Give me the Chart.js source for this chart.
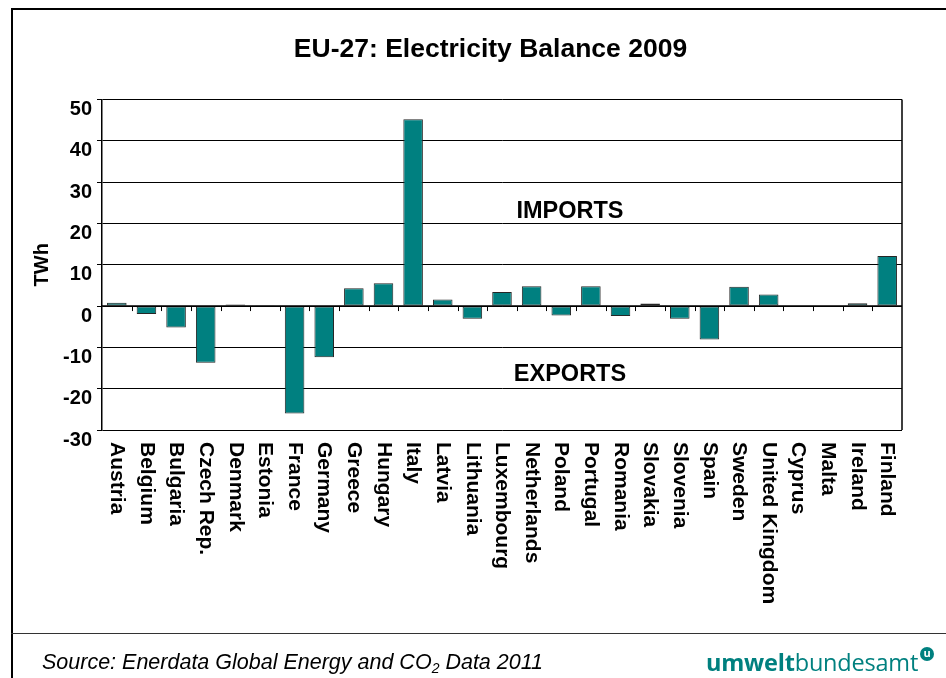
<!DOCTYPE html>
<html>
<head>
<meta charset="utf-8">
<script src="https://cdn.jsdelivr.net/npm/chart.js@4.4.0/dist/chart.umd.min.js"></script>
<style>
  html, body { margin: 0; padding: 0; background: #fff; }
  body { width: 946px; height: 678px; position: relative; overflow: hidden; font-family: "Liberation Sans", Arial, sans-serif; }
  #wrap { position: absolute; left: 0; top: 0; width: 946px; height: 678px; }
  .line { position: absolute; background: #000; }
  #title { position: absolute; left: 0; width: 981px; top: 33px; text-align: center; font-weight: bold; font-size: 26.5px; color: #000; }
  #source { position: absolute; left: 42px; top: 650px; font-style: italic; font-size: 21.5px; color: #000; white-space: nowrap; }
  #source sub { font-size: 14px; vertical-align: -4px; line-height: 0; }
  #logo { position: absolute; left: 706px; top: 646px; font-family: "Open Sans", sans-serif; font-size: 23.5px; color: #00807f; white-space: nowrap; letter-spacing: -0.2px; }
  #logo b { font-weight: bold; }
  #logo .dot { display: inline-block; width: 14px; height: 14px; border-radius: 7px; background: #00807f; color: #fff; font-size: 11px; font-weight: bold; line-height: 12px; text-align: center; vertical-align: 14px; margin-left: 2px; letter-spacing: 0; }
</style>
</head>
<body>
<div id="wrap"><canvas id="myChart" width="946" height="678"></canvas></div>
<div class="line" style="left:11px;top:8px;width:935px;height:2px;"></div>
<div class="line" style="left:11px;top:8px;width:2px;height:670px;"></div>
<div class="line" style="left:11px;top:633px;width:935px;height:1px;background:#333;"></div>
<div id="title">EU-27: Electricity Balance 2009</div>
<div id="source">Source: Enerdata Global Energy and CO<sub>2</sub> Data 2011</div>
<div id="logo"><b>umwelt</b>bundesamt<span class="dot">u</span></div>
<script>
const countries = ["Austria", "Belgium", "Bulgaria", "Czech Rep.", "Denmark", "Estonia", "France",
  "Germany", "Greece", "Hungary", "Italy", "Latvia", "Lithuania", "Luxembourg", "Netherlands",
  "Poland", "Portugal", "Romania", "Slovakia", "Slovenia", "Spain", "Sweden", "United Kingdom",
  "Cyprus", "Malta", "Ireland", "Finland"];
const balance = [0.8, -1.9, -5.2, -13.7, 0.4, 0.2, -26.0, -12.4, 4.3, 5.5, 45.2, 1.6, -3.1, 3.4, 4.8,
  -2.3, 4.8, -2.4, 0.6, -3.1, -8.1, 4.7, 2.8, 0, 0, 0.7, 12.1];
const yMin = -30, yMax = 50, yStep = 10;

const FONT = '"Liberation Sans", Arial, sans-serif';

// zero axis with tick marks, right frame, rotated country names, IMPORTS / EXPORTS
const extras = {
  id: 'extras',
  afterDraw(chart) {
    const ctx = chart.ctx;
    const area = chart.chartArea;
    const x = chart.scales.x;
    const y = chart.scales.y;
    const y0 = y.getPixelForValue(0);
    ctx.save();
    ctx.strokeStyle = '#000';
    ctx.lineWidth = 1.5;
    ctx.beginPath();
    ctx.moveTo(area.left, y0);
    ctx.lineTo(area.right, y0);
    ctx.moveTo(area.right, area.top);
    ctx.lineTo(area.right, area.bottom);
    ctx.stroke();
    ctx.lineWidth = 1;
    ctx.beginPath();
    for (let i = 1; i < countries.length; i++) {
      const bx = Math.round((x.getPixelForValue(i - 1) + x.getPixelForValue(i)) / 2) + 0.5;
      ctx.moveTo(bx, y0);
      ctx.lineTo(bx, y0 + 5);
    }
    ctx.stroke();

    ctx.fillStyle = '#000';
    ctx.font = 'bold 21px ' + FONT;
    ctx.textAlign = 'left';
    ctx.textBaseline = 'middle';
    for (let i = 0; i < countries.length; i++) {
      ctx.save();
      ctx.translate(x.getPixelForValue(i), area.bottom + 12);
      ctx.rotate(Math.PI / 2);
      ctx.fillText(countries[i], 0, 0);
      ctx.restore();
    }

    ctx.font = 'bold 23.5px ' + FONT;
    ctx.textAlign = 'center';
    const cx = area.left + (area.right - area.left) * 0.585;
    ctx.fillText('IMPORTS', cx, y.getPixelForValue(22.8));
    ctx.fillText('EXPORTS', cx, y.getPixelForValue(-16.6));
    ctx.restore();
  }
};

const data = {
  labels: countries,
  datasets: [{
    label: 'Electricity balance',
    data: balance,
    backgroundColor: '#008080',
    borderColor: '#262626',
    borderWidth: 1,
    borderSkipped: false,
    categoryPercentage: 1,
    barPercentage: 0.66
  }]
};

const config = {
  type: 'bar',
  data: data,
  options: {
    responsive: false,
    animation: false,
    layout: { padding: { left: 28, right: 44, top: 99.5, bottom: 0 } },
    plugins: {
      legend: { display: false },
      title: { display: false },
      tooltip: { enabled: false }
    },
    scales: {
      x: {
        grid: { display: false },
        border: { display: false },
        ticks: { display: false },
        afterFit(scale) { scale.height = 248; }
      },
      y: {
        min: yMin,
        max: yMax,
        ticks: {
          stepSize: yStep,
          color: '#000',
          padding: 5,
          labelOffset: 10,
          font: { family: FONT, size: 20, weight: 'bold' }
        },
        grid: { color: '#000', lineWidth: 1, tickLength: 5 },
        border: { color: '#000', width: 1.5 },
        title: {
          display: true,
          text: 'TWh',
          color: '#000',
          padding: { top: 2.5, bottom: 0 },
          font: { family: FONT, size: 20, weight: 'bold' }
        },
        afterFit(scale) { scale.width = 74; }
      }
    }
  },
  plugins: [extras]
};

const myChart = new Chart(document.getElementById('myChart'), config);
</script>
</body>
</html>
